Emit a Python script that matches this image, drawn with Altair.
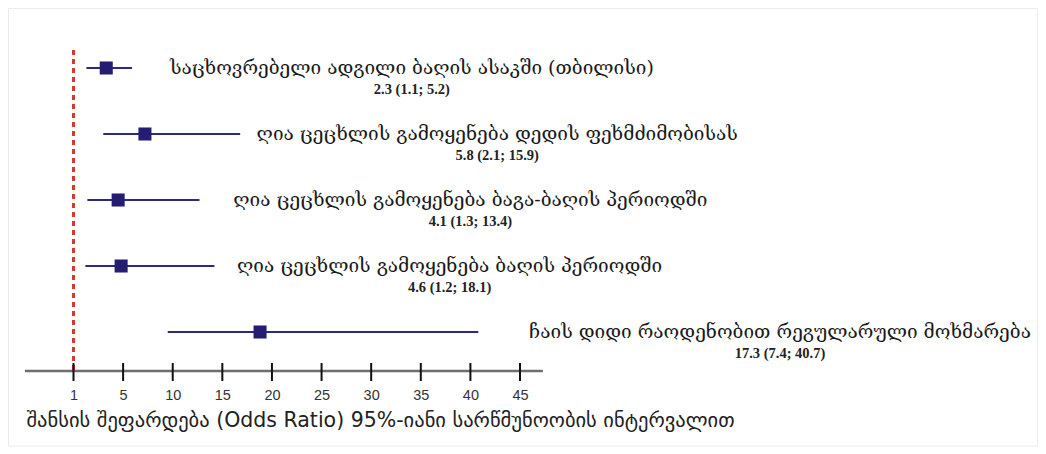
import altair as alt
import pandas as pd

# ---- data ----
rows = ["r1", "r2", "r3", "r4", "r5"]
labels = [
    "საცხოვრებელი ადგილი ბაღის ასაკში (თბილისი)",
    "ღია ცეცხლის გამოყენება დედის ფეხმძიმობისას",
    "ღია ცეცხლის გამოყენება ბაგა-ბაღის პერიოდში",
    "ღია ცეცხლის გამოყენება ბაღის პერიოდში",
    "ჩაის დიდი რაოდენობით რეგულარული მოხმარება",
]
value_texts = [
    "2.3 (1.1; 5.2)",
    "5.8 (2.1; 15.9)",
    "4.1 (1.3; 13.4)",
    "4.6 (1.2; 18.1)",
    "17.3 (7.4; 40.7)",
]
# plotted positions on the drawn axis (axis units, "1" sits at 0)
est = [3.3, 7.2, 4.5, 4.8, 18.8]
lo = [1.3, 3.0, 1.4, 1.2, 9.5]
hi = [5.9, 16.8, 12.7, 14.2, 40.8]

tick_pos = [0, 5, 10, 15, 20, 25, 30, 35, 40, 45]
tick_labels = ["1", "5", "10", "15", "20", "25", "30", "35", "40", "45"]
ref_line = [0]

x_title = "შანსის შეფარდება (Odds Ratio) 95%-იანი სარწმუნოობის ინტერვალით"

# ---- layout ----
W, H = 1030, 363
x_domain = [-6.6, 97.2]
label_center = [34.1, 42.7, 40.0, 37.9, 71.2]
axis_extent = [-4.9, 47.3]

df = pd.DataFrame({
    "row": rows, "label": labels, "vt": value_texts,
    "est": est, "lo": lo, "hi": hi, "cx": label_center,
})
ticks_df = pd.DataFrame({"t": tick_pos, "lab": tick_labels})
ref_df = pd.DataFrame({"r": ref_line})
ax_df = pd.DataFrame({"a": [axis_extent[0]], "b": [axis_extent[1]]})

xs = alt.Scale(domain=x_domain, nice=False, zero=False)
ys = alt.Scale(type="point", domain=rows, range=[60, 324], padding=0)

label_expr = "{" + ",".join(f"'{p}':'{l}'" for p, l in zip(tick_pos, tick_labels)) + "}[datum.value]"

xaxis = alt.Axis(
    values=tick_pos, labelExpr=label_expr, domain=False, ticks=False, tickSize=0,
    grid=False, labelFont="Liberation Sans", labelFontSize=14.5, labelColor="#333333",
    labelPadding=17, title=x_title, titleFont="DejaVu Sans", titleFontSize=20.5,
    titleFontWeight="normal", titleColor="#222222", titleX=18, titleY=39,
    titleAlign="left", titleBaseline="top", titleAnchor="start",
)

navy = "#241d72"

border = alt.Chart(ref_df).mark_rect(fillOpacity=0, stroke="#ececec", strokeWidth=1).encode(
    x=alt.value(0.5), x2=alt.value(W - 0.5), y=alt.value(0.5), y2=alt.value(438)
)

axis_line = alt.Chart(ax_df).mark_rule(color="#6e6e6e", strokeWidth=2.5).encode(
    x=alt.X("a:Q", scale=xs, axis=xaxis), x2="b:Q", y=alt.value(H)
)

tick_marks = alt.Chart(ticks_df).mark_rule(color="#111111", strokeWidth=2).encode(
    x=alt.X("t:Q", scale=xs, axis=xaxis),
    y=alt.value(H - 8), y2=alt.value(H + 10),
)

ref = alt.Chart(ref_df).mark_rule(color="#d63a2e", strokeWidth=3, strokeDash=[5, 4]).encode(
    x=alt.X("r:Q", scale=xs, axis=xaxis), y=alt.value(42), y2=alt.value(H)
)

whisk = alt.Chart(df).mark_rule(color="#2d2a7e", strokeWidth=2).encode(
    x=alt.X("lo:Q", scale=xs, axis=xaxis), x2="hi:Q",
    y=alt.Y("row:N", scale=ys, axis=None),
)

sq = alt.Chart(df).mark_square(size=170, color=navy, opacity=1).encode(
    x=alt.X("est:Q", scale=xs, axis=xaxis),
    y=alt.Y("row:N", scale=ys, axis=None),
)

lab = alt.Chart(df).mark_text(font="DejaVu Serif", fontSize=19, color="#1a1a1a",
                              align="center", baseline="middle", dy=0).encode(
    x=alt.X("cx:Q", scale=xs, axis=xaxis),
    y=alt.Y("row:N", scale=ys, axis=None),
    text="label:N",
)

val = alt.Chart(df).mark_text(font="Liberation Serif", fontSize=14.5, fontWeight="bold",
                              color="#222222", align="center", baseline="middle", dy=22).encode(
    x=alt.X("cx:Q", scale=xs, axis=xaxis),
    y=alt.Y("row:N", scale=ys, axis=None),
    text="vt:N",
)

chart = alt.layer(border, axis_line, ref, tick_marks, whisk, sq, lab, val).properties(
    width=W, height=H,
    autosize=alt.AutoSizeParams(type="none"),
    padding={"left": 0, "top": 0, "right": 0, "bottom": 90},
    background="white",
).configure_view(stroke=None)

chart.save("out.html", embed_options={"renderer": "svg", "actions": False})
